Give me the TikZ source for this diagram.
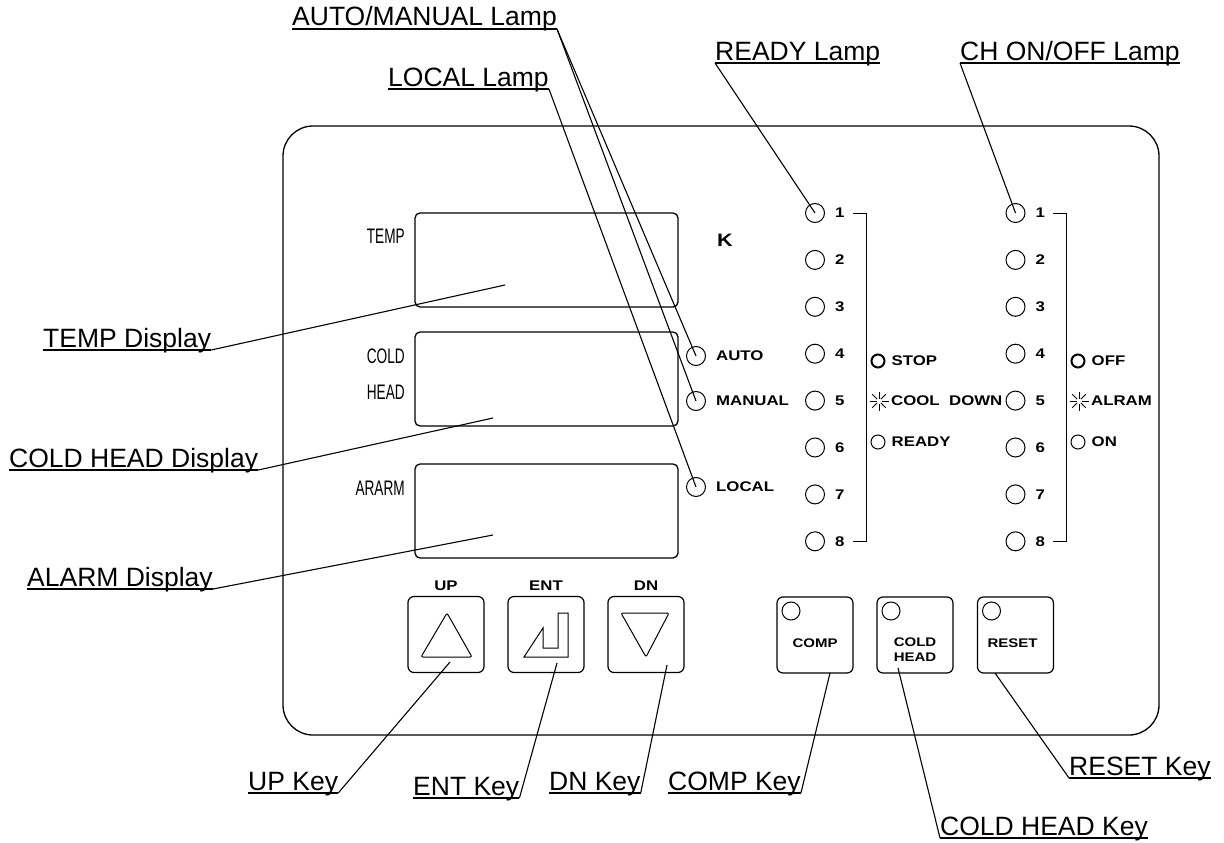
\documentclass[tikz,border=0pt]{standalone}
\usepackage{fontspec}
\setmainfont{Liberation Sans}
\newfontfamily\narrowfont[FakeStretch=0.65]{Liberation Sans}
\newfontfamily\widefont[FakeStretch=1.2]{Liberation Sans}
\usetikzlibrary{positioning}

\tikzset{
  callout/.style={font=\fontsize{26.5}{30}\selectfont, inner sep=0pt, anchor=base west},
  uline/.style={line width=2pt},
  leader/.style={line width=1.1pt},
  panel/.style={line width=1.3pt, rounded corners=30pt},
  dispbox/.style={draw, line width=1.3pt, rounded corners=5pt, minimum width=263pt, minimum height=94pt, inner sep=0pt},
  disptext/.style={font=\narrowfont\fontsize{21}{21}\selectfont, inner sep=0pt, anchor=east},
  lamp/.style={draw, circle, line width=1pt, minimum size=19pt, inner sep=0pt},
  lamptext/.style={font=\widefont\bfseries\fontsize{14}{14}\selectfont, inner sep=0pt},
  modelamp/.style={draw, circle, line width=1pt, minimum size=14pt, inner sep=0pt},
  keybox/.style={draw, line width=1.2pt, rounded corners=6pt, minimum size=76pt, inner sep=0pt},
  keylamp/.style={draw, circle, line width=1pt, minimum size=18pt, inner sep=0pt},
  keytext/.style={font=\widefont\bfseries\fontsize{12.5}{15}\selectfont, inner sep=0pt, align=center},
  symb/.style={line width=1pt, rounded corners=2pt},
}

\begin{document}
\begin{tikzpicture}[x=1pt, y=-1pt]
    \useasboundingbox (0,0) rectangle (1224,843);

    % front panel
    \draw[panel] (283,126) rectangle (1159,735);

    % displays
    \node[dispbox] (tempdisp) at (546.5,260) {};
    \node[dispbox] (colddisp) at (546.5,379) {};
    \node[dispbox] (alarmdisp) at (546.5,511) {};
    \node[disptext] at (405,236) {TEMP};
    \node[disptext] at (405,356) {COLD};
    \node[disptext] at (405,392) {HEAD};
    \node[disptext] at (405,488) {ARARM};
    \node[lamptext, font=\widefont\bfseries\fontsize{18}{18}\selectfont] at (725,240) {K};

    % AUTO / MANUAL / LOCAL lamps
    \node[lamp] (autolamp) at (696,356) {};
    \node[lamp] (manlamp) at (696,401) {};
    \node[lamp] (locallamp) at (696,487) {};
    \node[lamptext, right=10pt of autolamp] {AUTO};
    \node[lamptext, right=10pt of manlamp] {MANUAL};
    \node[lamptext, right=10pt of locallamp] {LOCAL};

    % lamp columns 1..8
    \foreach \i in {1,...,8} {
        \node[lamp] (rdy\i) at (815, {213+46.9*(\i-1)}) {};
        \node[lamptext, right=10pt of rdy\i] {\i};
        \node[lamp] (ch\i) at (1015.5, {213+46.9*(\i-1)}) {};
        \node[lamptext, right=10pt of ch\i] {\i};
    }
    \draw[line width=1pt] (853,213) -| (866,541) -- (853,541);
    \draw[line width=1pt] (1053,213) -| (1066,541) -- (1053,541);

    % status legend
    \node[modelamp, line width=2pt, minimum size=13pt] (stop) at (878,361) {};
    \coordinate (cool) at (879,401);
    \node[modelamp] (ready) at (878,442) {};
    \node[modelamp, line width=2pt, minimum size=13pt] (off) at (1078,361) {};
    \coordinate (alrm) at (1079,401);
    \node[modelamp] (on) at (1078,442) {};
    \foreach \s in {cool, alrm}
        \foreach \a in {0,45,...,315}
            \draw[line width=0.9pt] (\s) ++(\a:2.5) -- ++(\a:7);
    \node[lamptext, right=6pt of stop] {STOP};
    \node[lamptext, anchor=west] at (891,401) {COOL};
    \node[lamptext, right=6pt of ready] {READY};
    \node[lamptext, left=3pt of ch5] {DOWN};
    \node[lamptext, right=6pt of off] {OFF};
    \node[lamptext, anchor=west] at (1091,401) {ALRAM};
    \node[lamptext, right=6pt of on] {ON};

    % keys
    \node[keybox] (upkey) at (446,634.5) {};
    \node[keybox] (entkey) at (546,634.5) {};
    \node[keybox] (dnkey) at (646,634.5) {};
    \node[lamptext, above=5pt of upkey] {UP};
    \node[lamptext, above=5pt of entkey] {ENT};
    \node[lamptext, above=5pt of dnkey] {DN};
    \draw[symb] ([shift={(1,-21.5)}]upkey.center) -- ([shift={(26,22.5)}]upkey.center)
        -- ([shift={(-25,22.5)}]upkey.center) -- cycle;
    \draw[symb] ([shift={(-25,-21.5)}]dnkey.center) -- ([shift={(23,-21.5)}]dnkey.center)
        -- ([shift={(0,22.5)}]dnkey.center) -- cycle;
    \draw[line width=1pt] ([shift={(-22,22.5)}]entkey.center) -- ++(19,-29) -- ++(0,20)
        -- ++(15,0) -- ++(0,-35) -- ++(10,0) -- ++(0,44) -- cycle;

    \node[keybox] (compkey) at (815,635) {};
    \node[keybox] (coldkey) at (915,635) {};
    \node[keybox] (resetkey) at (1015.5,635) {};
    \foreach \k in {compkey, coldkey, resetkey}
        \node[keylamp] at ([shift={(-24,-24)}]\k.center) {};
    \node[keytext] at ([shift={(0,8)}]compkey.center) {COMP};
    \node[keytext] at ([shift={(0,15)}]coldkey.center) {COLD\\HEAD};
    \node[keytext] at ([shift={(-3,8)}]resetkey.center) {RESET};

    % callout labels
    \node[callout] (amlbl) at (292,26) {AUTO/MANUAL Lamp};
    \node[callout] (loclbl) at (388,86) {LOCAL Lamp};
    \node[callout] (rdylbl) at (715,60) {READY Lamp};
    \node[callout] (chlbl) at (960,60) {CH ON/OFF Lamp};
    \node[callout] (templbl) at (43,347) {TEMP Display};
    \node[callout] (coldlbl) at (9,467) {COLD HEAD Display};
    \node[callout] (alarmlbl) at (27,586) {ALARM Display};
    \node[callout] (uplbl) at (248,790) {UP Key};
    \node[callout] (entlbl) at (413,795) {ENT Key};
    \node[callout] (dnlbl) at (549,790) {DN Key};
    \node[callout] (complbl) at (668,790) {COMP Key};
    \node[callout] (coldkeylbl) at (940,835) {COLD HEAD Key};
    \node[callout] (resetlbl) at (1069,775) {RESET Key};
    \foreach \n in {amlbl, loclbl, rdylbl, chlbl, templbl, coldlbl, alarmlbl,
                    uplbl, entlbl, dnlbl, complbl, coldkeylbl, resetlbl}
        \draw[uline] ([yshift=-3pt]\n.base west) -- ([yshift=-3pt]\n.base east);

    % leader ends
    \coordinate (tempend) at (505,285);
    \coordinate (coldend) at (493,418);
    \coordinate (alarmend) at (493,535);
    \coordinate (upend) at (450,662);
    \coordinate (entend) at (557,663);
    \coordinate (dnend) at (667,665);
    \coordinate (compend) at (830,673);
    \coordinate (coldkeyend) at (898,668);
    \coordinate (resetend) at (995,673);

    % leaders
    \draw[leader] ([yshift=-3pt]amlbl.base east) -- (autolamp.center);
    \draw[leader] ([yshift=-3pt]amlbl.base east) -- (manlamp.center);
    \draw[leader] ([yshift=-3pt]loclbl.base east) -- (locallamp.center);
    \draw[leader] ([yshift=-3pt]rdylbl.base west) -- (rdy1.center);
    \draw[leader] ([yshift=-3pt]chlbl.base west) -- (ch1.center);
    \draw[leader] ([yshift=-3pt]templbl.base east) -- (tempend);
    \draw[leader] ([yshift=-3pt]coldlbl.base east) -- (coldend);
    \draw[leader] ([yshift=-3pt]alarmlbl.base east) -- (alarmend);
    \draw[leader] ([yshift=-3pt]uplbl.base east) -- (upend);
    \draw[leader] ([yshift=-3pt]entlbl.base east) -- (entend);
    \draw[leader] ([yshift=-3pt]dnlbl.base east) -- (dnend);
    \draw[leader] ([yshift=-3pt]complbl.base east) -- (compend);
    \draw[leader] ([yshift=-3pt]coldkeylbl.base west) -- (coldkeyend);
    \draw[leader] ([yshift=-3pt]resetlbl.base west) -- (resetend);
\end{tikzpicture}
\end{document}
